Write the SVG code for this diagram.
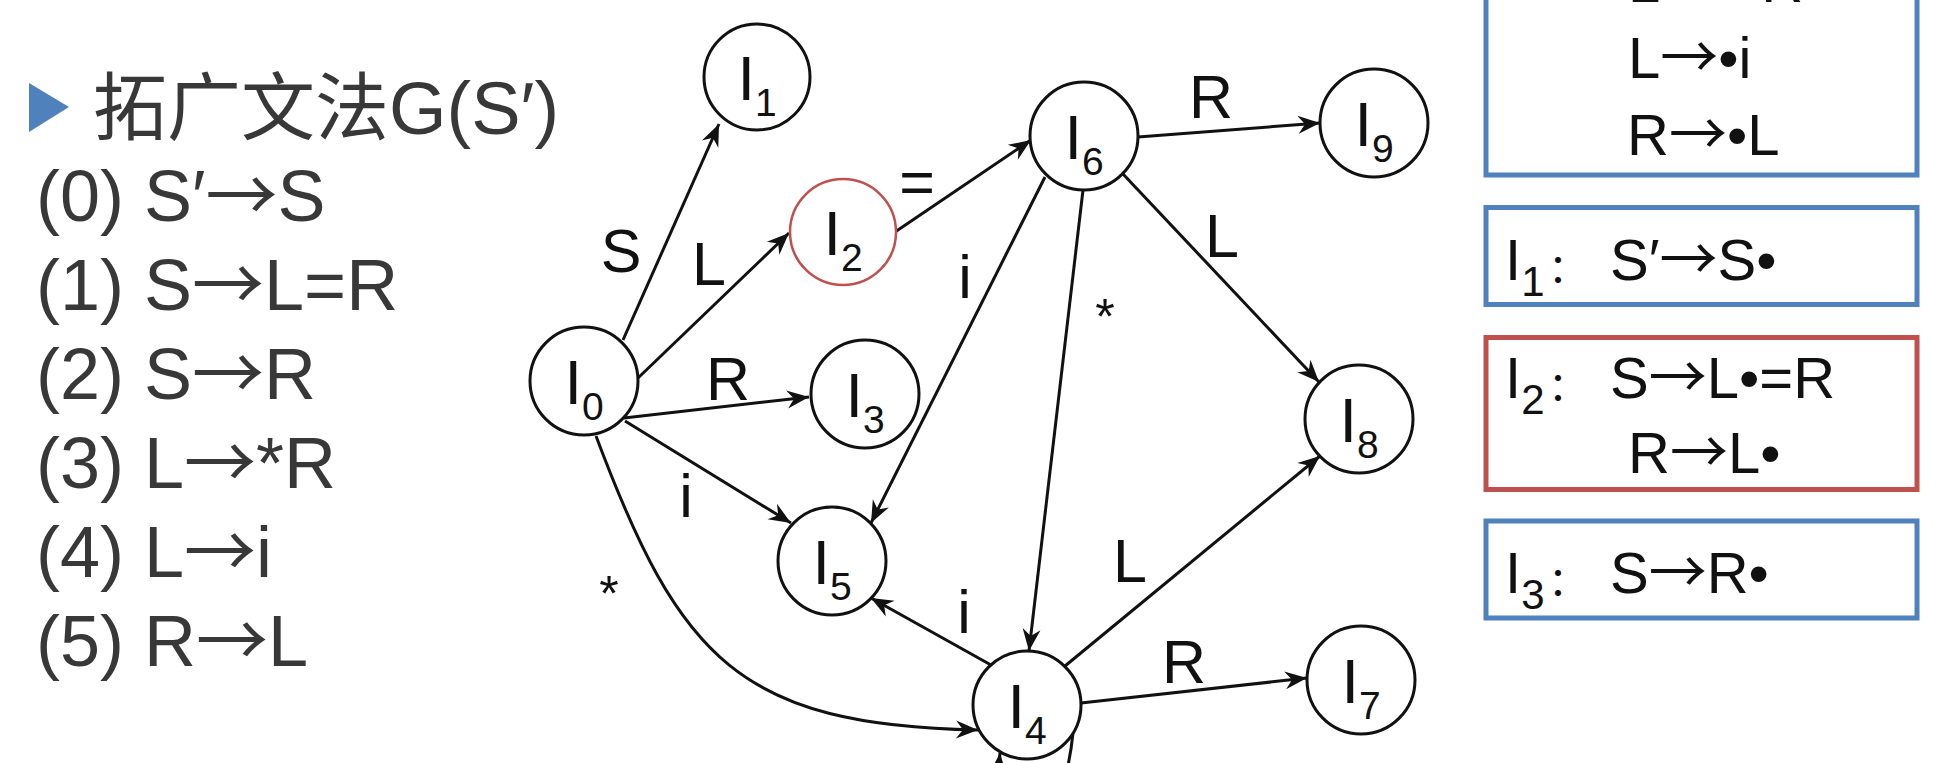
<svg xmlns="http://www.w3.org/2000/svg" width="1937" height="763" viewBox="0 0 1937 763">
<style>
  .bg{fill:#ffffff}
  .node circle{fill:#ffffff;stroke:#111;stroke-width:3}
  .node.hl circle{stroke:#c0504d;stroke-width:2.5}
  .nlab{font-family:"Liberation Sans",Arial,sans-serif;font-size:63px;fill:#111;text-anchor:middle}
  .sub{font-size:39px}
  .edge{fill:none;stroke:#111;stroke-width:3;marker-end:url(#arr)}
  .elab{font-family:"Liberation Sans",Arial,sans-serif;font-size:61px;fill:#111;text-anchor:middle}
  .star{font-size:50px}
  .gram{font-family:"Liberation Sans",Arial,"Noto Sans CJK SC",sans-serif;font-size:72px;fill:#383838}
  .title{font-size:74px}
  .ar{font-family:"Noto Sans CJK SC",sans-serif}
  .box{fill:#ffffff;stroke-width:5}
  .blue{stroke:#4f81bd}
  .red{stroke:#c0504d}
  .btxt{font-family:"Liberation Sans",Arial,"Noto Sans CJK SC",sans-serif;font-size:58px;fill:#111}
  .bsub{font-size:42px}
  .colon{font-family:"Noto Sans CJK SC",sans-serif;font-size:40px}
</style>
<defs>
  <marker id="arr" markerUnits="userSpaceOnUse" viewBox="-24 -12 26 24" refX="0" refY="0" markerWidth="26" markerHeight="24" orient="auto">
    <path d="M0,0 L-22,-9 L-15,0 L-22,9 Z" fill="#111"/>
  </marker>
</defs>
<rect class="bg" x="0" y="0" width="1937" height="763"/>

<g id="grammar">
  <polygon points="29,83 69,107 29,132" fill="#4f81bd"/>
  <text class="gram title" x="93" y="134">拓广文法G(S′)</text>
  <text class="gram" x="36" y="221">(0) S′<tspan class="ar">→</tspan>S</text>
  <text class="gram" x="36" y="310">(1) S<tspan class="ar">→</tspan>L=R</text>
  <text class="gram" x="36" y="399">(2) S<tspan class="ar">→</tspan>R</text>
  <text class="gram" x="36" y="488">(3) L<tspan class="ar">→</tspan>*R</text>
  <text class="gram" x="36" y="577">(4) L<tspan class="ar">→</tspan>i</text>
  <text class="gram" x="36" y="666">(5) R<tspan class="ar">→</tspan>L</text>
</g>

<g id="connectors">
  <path class="edge" d="M623,340 L719,124"/>
  <path class="edge" d="M638,378 L789,233"/>
  <path class="edge" d="M895,232 L1031,140"/>
  <path class="edge" d="M624,418 L809,397"/>
  <path class="edge" d="M625,421 L791,523"/>
  <path class="edge" d="M1045,177 L871,523"/>
  <path class="edge" d="M1083,190 L1029,651"/>
  <path class="edge" d="M1138,137 L1320,123"/>
  <path class="edge" d="M1123,174 L1319,382"/>
  <path class="edge" d="M991,665 L871,598"/>
  <path class="edge" d="M1065,666 L1320,456"/>
  <path class="edge" d="M1081,703 L1307,678"/>
  <path class="edge" d="M596,436 C680,660 740,725 978,730"/>
  <path class="edge" d="M1073,733 C1060,860 990,860 1000,753"/>
  <g id="edge-labels">
    <text class="elab" x="621" y="272">S</text>
    <text class="elab" x="709" y="285">L</text>
    <text class="elab" x="917" y="203">=</text>
    <text class="elab" x="728" y="400">R</text>
    <text class="elab" x="686" y="517">i</text>
    <text class="elab" x="965" y="298">i</text>
    <text class="elab star" x="1105" y="334">*</text>
    <text class="elab" x="1211" y="118">R</text>
    <text class="elab" x="1222" y="257">L</text>
    <text class="elab" x="964" y="633">i</text>
    <text class="elab" x="1130" y="582">L</text>
    <text class="elab" x="1184" y="683">R</text>
    <text class="elab star" x="609" y="611">*</text>
  </g>
</g>

<g id="I0" class="node"><circle cx="584" cy="381" r="54"/><text class="nlab" x="584" y="404">I<tspan class="sub" dy="16">0</tspan></text></g>
<g id="I1" class="node"><circle cx="757" cy="77" r="53"/><text class="nlab" x="757" y="100">I<tspan class="sub" dy="16">1</tspan></text></g>
<g id="I2" class="node hl"><circle cx="843" cy="232" r="53"/><text class="nlab" x="843" y="255">I<tspan class="sub" dy="16">2</tspan></text></g>
<g id="I3" class="node"><circle cx="865" cy="394" r="54"/><text class="nlab" x="865" y="417">I<tspan class="sub" dy="16">3</tspan></text></g>
<g id="I4" class="node"><circle cx="1027" cy="705" r="54"/><text class="nlab" x="1027" y="728">I<tspan class="sub" dy="16">4</tspan></text></g>
<g id="I5" class="node"><circle cx="832" cy="561" r="54"/><text class="nlab" x="832" y="584">I<tspan class="sub" dy="16">5</tspan></text></g>
<g id="I6" class="node"><circle cx="1084" cy="136" r="54"/><text class="nlab" x="1084" y="159">I<tspan class="sub" dy="16">6</tspan></text></g>
<g id="I7" class="node"><circle cx="1361" cy="680" r="54"/><text class="nlab" x="1361" y="703">I<tspan class="sub" dy="16">7</tspan></text></g>
<g id="I8" class="node"><circle cx="1359" cy="419" r="54"/><text class="nlab" x="1359" y="442">I<tspan class="sub" dy="16">8</tspan></text></g>
<g id="I9" class="node"><circle cx="1374" cy="123" r="54"/><text class="nlab" x="1374" y="146">I<tspan class="sub" dy="16">9</tspan></text></g>

<g id="box-I0">
  <rect class="box blue" x="1486" y="-60" width="431" height="235"/>
  <text class="btxt" x="1628" y="2">L<tspan class="ar">→</tspan>•*R</text>
  <text class="btxt" x="1628" y="78">L<tspan class="ar">→</tspan>•i</text>
  <text class="btxt" x="1627" y="155">R<tspan class="ar">→</tspan>•L</text>
</g>
<g id="box-I1">
  <rect class="box blue" x="1486" y="207.5" width="431" height="97"/>
  <text class="btxt" x="1505" y="280">I<tspan class="bsub" dy="16">1</tspan><tspan class="colon" x="1548" dy="-14">：</tspan><tspan x="1610" dy="-2">S′</tspan><tspan class="ar">→</tspan>S•</text>
</g>
<g id="box-I2">
  <rect class="box red" x="1486" y="337.5" width="431" height="152"/>
  <text class="btxt" x="1505" y="398">I<tspan class="bsub" dy="16">2</tspan><tspan class="colon" x="1548" dy="-14">：</tspan><tspan x="1610" dy="-2">S</tspan><tspan class="ar">→</tspan>L•=R</text>
  <text class="btxt" x="1628" y="473">R<tspan class="ar">→</tspan>L•</text>
</g>
<g id="box-I3">
  <rect class="box blue" x="1486" y="521" width="431" height="97"/>
  <text class="btxt" x="1505" y="593">I<tspan class="bsub" dy="16">3</tspan><tspan class="colon" x="1548" dy="-14">：</tspan><tspan x="1610" dy="-2">S</tspan><tspan class="ar">→</tspan>R•</text>
</g>
</svg>
